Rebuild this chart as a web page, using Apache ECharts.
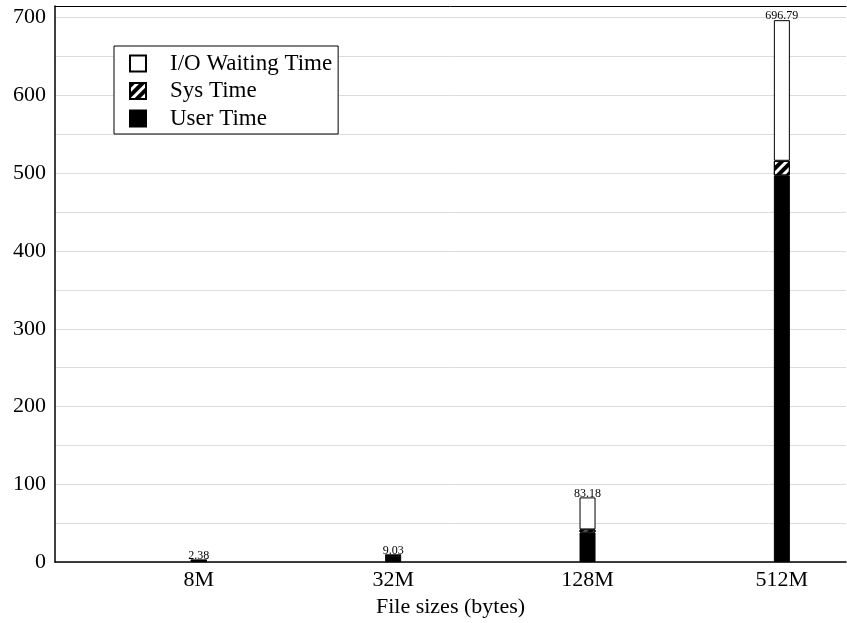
<!DOCTYPE html>
<html>
<head>
<meta charset="utf-8">
<script src="https://cdn.jsdelivr.net/npm/echarts@6/dist/echarts.min.js"></script>
<style>html,body{margin:0;padding:0;background:#fff}#chart{width:847px;height:623px}</style>
</head>
<body>
<div id="chart"></div>
<script>
const categories = ['8M', '32M', '128M', '512M'];
const userTime = [2.1, 8.3, 38, 497];
const sysTime = [0.2, 0.6, 4, 19];
const ioTime = [0.08, 0.13, 41.18, 180.79];
const totals = [2.38, 9.03, 83.18, 696.79];
const yTicks = [0, 100, 200, 300, 400, 500, 600, 700];

const FONT = 'Liberation Serif';
// value first, category index second (so the value dimension is the stacked one)
const toPairs = arr => arr.map((v, i) => [v, i]);

const chart = echarts.init(document.getElementById('chart'));
chart.setOption({
  animation: false,
  backgroundColor: '#fff',
  grid: { left: 55, right: 1, top: 6, bottom: 57 },
  legend: {
    orient: 'vertical',
    left: 114, top: 46,
    data: ['I/O Waiting Time', 'Sys Time', 'User Time'],
    itemWidth: 16, itemHeight: 16, itemGap: 4.5,
    icon: 'rect',
    borderColor: '#000', borderWidth: 1,
    padding: [6, 6, 4, 15],
    backgroundColor: '#fff',
    textStyle: { fontFamily: FONT, fontSize: 23, color: '#000', lineHeight: 22, padding: [0, 0, 0, 19] }
  },
  xAxis: [{
    type: 'value', min: -0.74, max: 3.33,
    axisLine: { show: true, onZero: false, lineStyle: { color: '#000', width: 1.5 } },
    axisTick: { show: false },
    splitLine: { show: false },
    axisLabel: {
      customValues: [0, 1, 2, 3],
      formatter: v => categories[Math.round(v)] || '',
      fontFamily: FONT, fontSize: 22, color: '#000', margin: 7
    },
    name: 'File sizes (bytes)', nameLocation: 'middle', nameGap: 30,
    nameTextStyle: { fontFamily: FONT, fontSize: 22, color: '#000' }
  }, {
    type: 'value', min: -0.74, max: 3.33, position: 'top',
    axisLine: { show: true, onZero: false, lineStyle: { color: '#000', width: 1 } },
    axisTick: { show: false }, axisLabel: { show: false }, splitLine: { show: false }
  }],
  yAxis: {
    type: 'value', min: 0, max: 715, interval: 50,
    axisLine: { show: true, onZero: false, lineStyle: { color: '#000', width: 1.5 } },
    axisTick: { show: false },
    splitLine: { show: true, lineStyle: { color: '#dcdcdc', width: 1 } },
    axisLabel: {
      showMaxLabel: false,
      formatter: v => (yTicks.indexOf(v) >= 0 ? String(v) : ''),
      fontFamily: FONT, fontSize: 22, color: '#000', margin: 9
    }
  },
  series: [{
    name: 'User Time', type: 'bar', stack: 't', barWidth: 16,
    data: toPairs(userTime), encode: { x: 1, y: 0 },
    itemStyle: { color: '#000', borderColor: '#000', borderWidth: 1 }
  }, {
    name: 'Sys Time', type: 'bar', stack: 't', barWidth: 16,
    data: toPairs(sysTime), encode: { x: 1, y: 0 },
    itemStyle: {
      color: '#fff', borderColor: '#000', borderWidth: 1,
      decal: { symbol: 'rect', symbolSize: 1, color: '#000', dashArrayX: [1, 0], dashArrayY: [3.5, 2.5], rotation: -Math.PI / 4 }
    }
  }, {
    name: 'I/O Waiting Time', type: 'bar', stack: 't', barWidth: 16,
    data: toPairs(ioTime), encode: { x: 1, y: 0 },
    itemStyle: { color: '#fff', borderColor: '#000', borderWidth: 1 },
    label: {
      show: true, position: 'top', distance: -2,
      formatter: p => totals[p.dataIndex].toFixed(2),
      fontFamily: FONT, fontSize: 12, color: '#000'
    }
  }]
});
</script>
</body>
</html>
